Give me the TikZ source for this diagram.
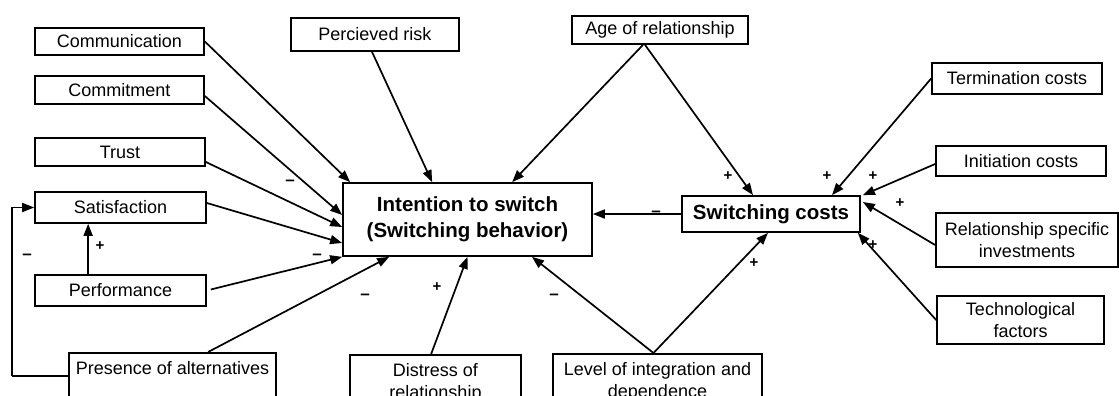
\documentclass[tikz,border=0pt]{standalone}
\usepackage{fontspec}
\setmainfont{Liberation Sans}
\usetikzlibrary{arrows.meta,calc}
\tikzset{
  box/.style={draw, line width=1.7pt, inner sep=0pt, align=center,
    font=\fontsize{18}{22}\selectfont},
  bigbox/.style={draw, line width=1.7pt, inner sep=0pt, align=center,
    font=\fontsize{20.5}{26}\selectfont\bfseries},
  openbox/.style={draw, line width=1.7pt, inner xsep=0pt, inner ysep=9pt, anchor=north,
    align=center, text height=13pt, text depth=60pt, font=\fontsize{18}{22}\selectfont},
  twoline/.style={text height=35pt},
  arr/.style={-{Triangle[length=12pt,width=9pt]}, line width=1.7pt},
  ln/.style={line width=1.7pt},
  sgn/.style={inner sep=0pt, font=\fontsize{17}{17}\selectfont\bfseries},
  pls/.style={inner sep=0pt, font=\fontsize{15}{15}\selectfont\bfseries},
}
\begin{document}
\begin{tikzpicture}[x=1pt,y=-1pt]
\useasboundingbox (0,0) rectangle (1119,396);
\clip (0,0) rectangle (1119,396);
% boxes
\node[box, minimum width=169, minimum height=27] (comm) at (119.5,41.5) {Communication};
\node[box, minimum width=169, minimum height=28] (commit) at (119.5,90) {Commitment};
\node[box, minimum width=170, minimum height=28] (trust) at (120,152) {Trust};
\node[box, minimum width=171, minimum height=31] (satis) at (120.5,207.5) {Satisfaction};
\node[box, minimum width=171, minimum height=31] (perf) at (120.5,290.5) {Performance};
\node[box, minimum width=168, minimum height=33] (risk) at (375,34.5) {Percieved risk};
\node[box, minimum width=176, minimum height=28] (age) at (660,30) {Age of relationship};
\node[bigbox, minimum width=249, minimum height=73] (intent) at (467.5,219.5) {Intention to switch\\(Switching behavior)};
\node[bigbox, minimum width=178, minimum height=36] (sw) at (771,214) {Switching costs};
\node[box, minimum width=170, minimum height=31] (term) at (1017,78.5) {Termination costs};
\node[box, minimum width=170, minimum height=30] (init) at (1021,161) {Initiation costs};
\node[box, minimum width=182, minimum height=54] (rsi) at (1027,240) {Relationship specific\\investments};
\node[box, minimum width=167, minimum height=48] (tech) at (1020.5,320) {Technological\\factors};
\node[openbox, minimum width=207] (pres) at (172.5,352) {Presence of alternatives};
\node[openbox, twoline, minimum width=171] (dist) at (435.5,354) {Distress of\\relationship};
\node[openbox, twoline, minimum width=209] (level) at (657.5,353) {Level of integration and\\dependence};
% arrows into intention
\draw[arr] (comm.east) -- ($(intent.north west)+(8,0)$);
\draw[arr] ($(commit.east)+(0,6)$) -- ($(intent.west)+(0,-4.5)$);
\draw[arr] ($(trust.east)+(0,10)$) -- ($(intent.west)+(0,7.5)$);
\draw[arr] ($(satis.east)+(0,-4.5)$) -- ($(intent.west)+(0,23.5)$);
\draw[arr] ($(perf.east)+(4,-1)$) -- (intent.south west);
\draw[arr] ($(pres.north west)+(140,0)$) -- ($(intent.south west)+(47,0)$);
\draw[arr] ($(dist.north west)+(82,0)$) -- (intent.south);
\draw[arr] ($(level.north)+(-4,0)$) -- ($(intent.south)+(64.5,0)$);
\draw[arr] ($(risk.south)+(-3,0)$) -- ($(intent.north west)+(90,0)$);
\draw[arr] ($(age.south)+(-17,0)$) -- ($(intent.north west)+(170,0)$);
\draw[arr] (sw.west) -- (sw.west -| intent.east);
% arrows into switching costs
\draw[arr] ($(age.south)+(-15,0)$) -- ($(sw.north)+(-18,0)$);
\draw[arr] ($(level.north)+(-4,0)$) -- ($(sw.south)+(-3,0)$);
\draw[arr] (term.west) -- ($(sw.north)+(61,0)$);
\draw[arr] ($(init.west)+(0,3)$) -- ($(sw.north east)+(2,0)$);
\draw[arr] ($(rsi.west)+(0,5)$) -- ($(sw.east)+(2,-12)$);
\draw[arr] (tech.west) -- ($(sw.south east)+(-3,0)$);
% performance -> satisfaction and feedback
\draw[arr] ($(perf.north west)+(54,0)$) -- ($(satis.south west)+(54,0)$);
\coordinate (fb) at ($(pres.north west)+(-56,24)$);
\draw[ln] ($(pres.north west)+(0,24)$) -- (fb);
\draw[arr] (fb) |- (satis.west);
% signs
\node[sgn] (m1) at (290,183) {–};
\node[sgn] (m2) at (317,257) {–};
\node[sgn] (m3) at (365,297) {–};
\node[sgn] (m4) at (554,297) {–};
\node[sgn] (m5) at (656,214) {–};
\node[sgn] (m6) at (27,257) {–};
\node[pls] (p1) at (100,246) {+};
\node[pls] (p2) at (437,287) {+};
\node[pls] (p3) at (754,263) {+};
\node[pls] (p4) at (728,176) {+};
\node[pls] (p5) at (827,176) {+};
\node[pls] (p6) at (873,176) {+};
\node[pls] (p7) at (900,203) {+};
\node[pls] (p8) at (873,245) {+};
\end{tikzpicture}
\end{document}
